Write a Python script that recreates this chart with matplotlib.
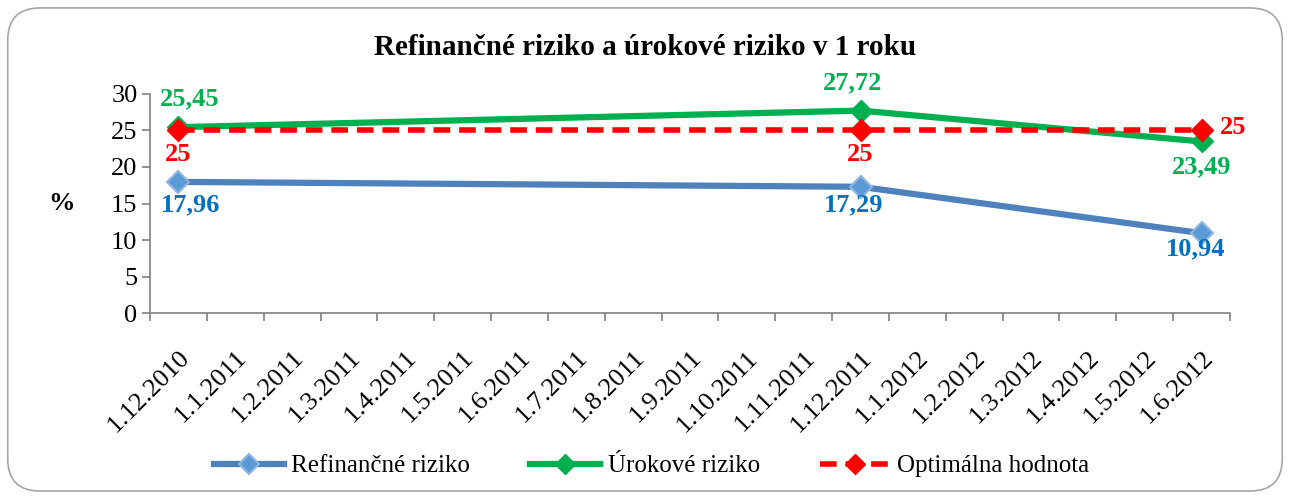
import matplotlib.pyplot as plt
from matplotlib.patches import FancyBboxPatch
import numpy as np

# Category axis (monthly dates)
dates = ['1.12.2010', '1.1.2011', '1.2.2011', '1.3.2011', '1.4.2011', '1.5.2011',
         '1.6.2011', '1.7.2011', '1.8.2011', '1.9.2011', '1.10.2011', '1.11.2011',
         '1.12.2011', '1.1.2012', '1.2.2012', '1.3.2012', '1.4.2012', '1.5.2012',
         '1.6.2012']

# Observations
obs_dates = ['1.12.2010', '1.12.2011', '1.6.2012']
refinancne = [17.96, 17.29, 10.94]
urokove = [25.45, 27.72, 23.49]
optimalna = [25, 25, 25]

plt.rcParams['font.family'] = ['Liberation Serif', 'DejaVu Serif']

fig = plt.figure(figsize=(12.9, 4.97), dpi=100)

# Rounded chart border
border = FancyBboxPatch((0.006, 0.012), 0.988, 0.972, boxstyle='round,pad=0,rounding_size=0.025',
                        transform=fig.transFigure, facecolor='white', edgecolor='#A6A6A6',
                        linewidth=1.2, zorder=-10, mutation_aspect=1290 / 497)
fig.patches.append(border)

ax = fig.add_axes([0.1163, 0.370, 0.8372, 0.441])
ax.set_facecolor('none')

xpos = [dates.index(d) + 0.5 for d in obs_dates]

blue_line = '#4F81BD'
green = '#00B050'
red = '#FF0000'

ax.plot(xpos, refinancne, color=blue_line, lw=4.5, marker='D', ms=11,
        mfc='#5B9BD5', mec='#8DB4E2', mew=1.5, label='Refinančné riziko', zorder=3)
ax.plot(xpos, urokove, color=green, lw=4.5, marker='D', ms=11,
        mfc=green, mec=green, label='Úrokové riziko', zorder=3)
ax.plot(xpos, optimalna, color=red, lw=4, ls=(0, (3, 1.6)), marker='D', ms=11,
        mfc=red, mec=red, label='Optimálna hodnota', zorder=4)

lab_kw = dict(fontsize=19, fontweight='bold', textcoords='offset points')


def fmt(v):
    return f'{v:.2f}'.replace('.', ',') if v != int(v) else f'{int(v)}'


# Refinancne labels below
for x, v, off in zip(xpos, refinancne, [(9, -8), (-5, -5), (-4, -3)]):
    ax.annotate(fmt(v), (x, v), xytext=off, ha='center', va='top', color='#0070C0', **lab_kw)
# Urokove labels
for x, v, off in zip(xpos, urokove, [(8, 12), (-6, 12), (0, -10)]):
    ax.annotate(fmt(v), (x, v), xytext=off, ha='center',
                va='bottom' if off[1] > 0 else 'top', color=green, **lab_kw)
# Optimalna labels
for i, (x, v) in enumerate(zip(xpos, optimalna)):
    if i < 2:
        ax.annotate(fmt(v), (x, v), xytext=(0, -9), ha='center', va='top', color=red, **lab_kw)
    else:
        ax.annotate(fmt(v), (x, v), xytext=(13, 2), ha='left', va='center', color=red, **lab_kw)

ax.set_xlim(0, len(dates))
ax.set_ylim(0, 30)
ax.set_yticks(range(0, 31, 5))
ax.set_xticks(np.arange(len(dates) + 1))
ax.set_xticklabels([])
ax.set_xticks(np.arange(len(dates)) + 0.5, minor=True)
ax.set_xticklabels(dates, minor=True, rotation=45, ha='right', va='top',
                   rotation_mode='anchor', fontsize=19)
ax.tick_params(axis='x', which='minor', length=0, pad=24)
ax.tick_params(axis='x', which='major', length=6, color='#808080', width=1.2)
ax.tick_params(axis='y', length=6, color='#808080', width=1.2, labelsize=19, pad=3)

for s in ['top', 'right']:
    ax.spines[s].set_visible(False)
for s in ['left', 'bottom']:
    ax.spines[s].set_color('#808080')
    ax.spines[s].set_linewidth(1.2)

ax.set_ylabel('%', rotation=0, fontsize=19, fontweight='bold', labelpad=36, va='center')

fig.text(0.5, 0.905, 'Refinančné riziko a úrokové riziko v 1 roku', ha='center', va='center',
         fontsize=21, fontweight='bold')

fig.legend(loc='center', bbox_to_anchor=(0.505, 0.062), ncol=3, frameon=False,
           fontsize=18, handlelength=2.8, columnspacing=2.4, handletextpad=0.3, markerscale=0.9)

fig.savefig('out.png', dpi=100)
